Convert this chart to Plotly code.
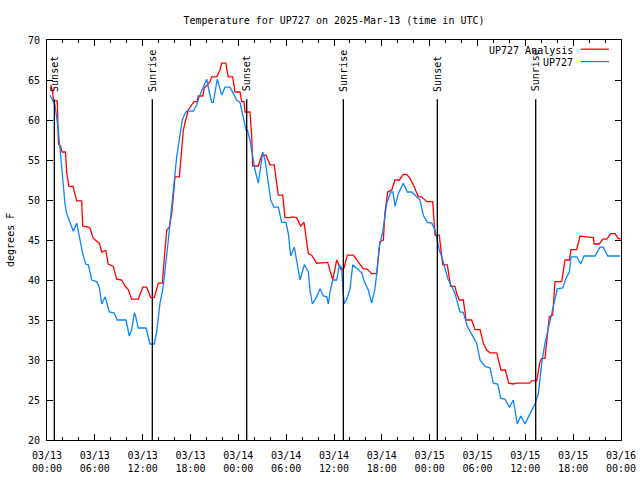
import pandas as pd
import plotly.graph_objects as go

base_time = pd.Timestamp("2025-03-13 00:00")

# UP727 Analysis (red) - hours after 03/13 00:00 UTC, temperature F
red_hours = [0.46, 0.72, 0.79, 1.29, 1.44, 1.72, 1.88, 2.32, 2.47, 2.76, 3.26, 3.73, 4.35, 4.48,
             5.14, 5.39, 5.81, 6.56, 6.86, 7.36, 7.69, 8.32, 8.74, 9.37, 9.78, 10.20, 10.62, 11.45,
             12.00, 12.51, 13.01, 13.46, 13.96, 14.46, 14.80, 15.02, 15.34, 15.64, 15.84, 16.06,
             16.60, 16.77, 16.90, 17.10, 17.40, 17.72, 18.44, 18.82, 18.98, 19.53, 19.73, 20.45,
             20.66, 21.29, 21.70, 21.91, 22.42, 22.74, 23.29, 23.58, 24.21, 24.42, 24.71, 24.84,
             25.46, 25.68, 25.80, 26.51, 26.93, 27.47, 27.97, 28.51, 28.81, 29.01, 29.57, 29.85,
             30.48, 30.82, 31.32, 31.82, 32.24, 32.58, 32.78, 33.20, 33.83, 35.21, 35.50, 35.84,
             36.34, 36.63, 36.88, 37.26, 37.67, 38.42, 39.05, 39.68, 40.10, 40.73, 41.36, 41.56,
             41.77, 42.19, 42.40, 42.74, 43.24, 43.65, 44.19, 44.69, 45.12, 45.53, 45.95, 46.58,
             47.00, 47.63, 48.38, 48.55, 48.67, 49.21, 49.39, 49.64, 50.21, 50.46, 50.64, 51.18,
             51.39, 51.72, 52.22, 52.56, 53.27, 53.69, 54.32, 54.73, 55.16, 55.57, 56.41, 56.95,
             57.49, 57.92, 58.49, 58.92, 60.50, 60.80, 61.43, 61.84, 62.05, 62.47, 62.76, 63.01,
             63.43, 63.72, 64.56, 64.98, 65.52, 65.73, 66.45, 66.86, 67.70, 68.53, 68.62, 69.28,
             69.71, 70.21, 70.71, 71.25, 71.66, 71.96]
red_temp = [64.4, 63.5, 62.4, 62.4, 57.0, 56.7, 56.0, 56.0, 53.4, 51.7, 51.7, 49.9, 49.9, 46.75,
            46.6, 46.5, 45.2, 44.6, 43.5, 43.7, 42.0, 41.7, 40.1, 40.0, 39.25, 38.8, 37.6, 37.6,
            39.1, 39.1, 37.8, 37.8, 39.6, 39.6, 43.75, 46.25, 46.6, 48.3, 50.4, 52.9,
            52.9, 54.8, 57.3, 58.75, 60.0, 61.25, 62.3, 62.3, 63.0, 63.0, 64.0, 64.8,
            65.4, 65.4, 66.25, 67.1, 67.1, 65.4, 65.4, 63.5, 63.5, 62.3, 62.3, 61.0,
            61.0, 57.9, 54.25, 54.25, 55.6, 55.6, 54.4, 54.4, 52.1, 50.6, 50.6, 47.8,
            47.8, 47.9, 47.8, 46.75, 47.2, 44.6, 43.3, 43.1, 42.1, 42.2, 41.25, 40.0,
            42.5, 41.9, 41.3, 41.5, 43.1, 43.1, 42.3, 41.4, 41.4, 40.8, 40.8, 42.5,
            44.8, 45.0, 48.5, 51.0, 51.25, 52.5, 52.5, 53.2, 53.2, 52.7, 51.9, 50.4,
            50.4, 49.8, 49.8, 47.3, 45.6, 45.6, 44.0, 41.9, 41.9, 40.0, 39.2, 39.2,
            38.3, 37.5, 37.5, 35.0, 35.0, 33.8, 33.8, 32.1, 31.25, 30.9, 30.9, 28.75,
            28.75, 27.1, 27.0, 27.1, 27.1, 27.4, 27.4, 29.8, 30.2, 30.2, 33.3, 35.4,
            35.6, 39.8, 39.8, 42.5, 42.5, 43.8, 43.8, 45.5, 45.4, 45.3, 44.5, 44.5,
            45.1, 45.1, 45.8, 45.8, 45.2, 45.1]

# UP727 observations (blue)
blue_hours = [0.38, 1.00, 1.42, 1.72, 1.97, 2.26, 2.47, 2.89, 3.30, 3.73, 4.05, 4.48, 4.85, 5.18,
              5.61, 6.23, 6.56, 6.77, 6.86, 7.31, 7.81, 8.40, 8.82, 9.91, 10.32, 10.62, 10.95,
              11.08, 11.45, 12.42, 12.92, 13.46, 13.76, 14.17, 14.51, 14.71, 15.02, 15.22, 15.55,
              15.84, 16.06, 16.27, 16.47, 16.68, 16.97, 17.31, 17.52, 18.35, 18.78, 19.10, 19.61,
              20.03, 20.36, 20.66, 20.86, 21.07, 21.36, 21.61, 21.91, 22.33, 22.96, 23.37, 23.80,
              24.21, 24.62, 24.96, 25.13, 25.46, 25.80, 26.09, 26.51, 26.81, 27.06, 27.35, 27.76,
              28.06, 28.47, 29.01, 29.44, 29.98, 30.27, 30.57, 31.02, 31.40, 31.74, 32.28, 32.78,
              32.99, 33.28, 33.74, 34.25, 34.66, 35.09, 35.29, 35.50, 35.84, 36.34, 36.67, 36.97,
              37.09, 37.29, 37.59, 38.01, 38.35, 38.85, 39.48, 39.80, 40.30, 40.73, 41.14, 41.36,
              41.68, 42.11, 42.61, 42.90, 43.11, 43.40, 43.65, 44.07, 44.69, 45.20, 45.75, 46.79,
              47.20, 47.71, 48.26, 48.67, 48.96, 49.21, 49.51, 49.93, 50.34, 50.77, 51.18, 51.81,
              52.22, 52.72, 53.27, 53.90, 54.32, 54.94, 55.57, 55.98, 56.54, 56.91, 57.45, 57.99,
              58.49, 58.99, 59.42, 59.96, 60.59, 61.21, 61.63, 62.05, 62.47, 62.76, 63.18, 63.51,
              64.01, 64.69, 65.10, 65.52, 65.73, 66.45, 66.95, 67.36, 68.74, 69.37, 69.78, 70.33,
              71.88]
blue_temp = [63.1, 61.9, 58.75, 55.4, 52.1, 49.5, 48.3, 47.1, 46.1, 47.1, 45.4, 43.3, 42.0, 41.9,
             40.0, 39.8, 39.1, 37.5, 37.0, 37.9, 36.0, 35.9, 35.0, 35.0, 33.0, 33.75, 35.9,
             35.6, 34.0, 34.0, 32.0, 32.0, 33.5, 37.1, 38.75, 40.4, 43.75, 45.0, 48.3,
             50.8, 53.3, 55.4, 56.9, 58.3, 60.0, 60.8, 61.1, 61.1, 61.9, 62.9, 64.2,
             65.1, 63.5, 62.2, 62.2, 63.5, 65.1, 64.2, 63.1, 64.1, 64.1, 63.3, 62.5,
             62.2, 60.5, 58.75, 58.75, 57.5, 55.5, 53.75, 52.1, 54.6, 56.0, 55.0, 52.1,
             50.0, 49.1, 49.1, 47.2, 47.2, 45.8, 43.0, 44.1, 42.1, 40.0, 41.9, 41.0,
             38.75, 37.0, 37.7, 38.9, 38.0, 37.9, 37.0, 38.5, 40.0, 40.0, 41.9, 41.5,
             39.2, 37.0, 37.6, 38.9, 41.9, 41.5, 40.9, 39.8, 38.75, 37.1, 38.9, 40.8,
             44.2, 46.0, 49.6, 50.4, 51.0, 51.0, 49.2, 50.8, 52.1, 51.0, 51.0, 50.0,
             48.1, 47.2, 47.1, 46.25, 45.0, 43.75, 42.9, 41.25, 40.0, 39.2, 38.3, 36.0,
             35.96, 34.2, 33.3, 32.1, 30.0, 29.2, 29.0, 27.1, 27.0, 25.2, 25.1, 24.1,
             25.0, 22.0, 23.0, 22.0, 23.3, 24.5, 25.8, 29.6, 32.1, 33.5, 35.2, 36.7,
             38.9, 39.0, 40.2, 41.0, 42.9, 42.9, 42.0, 43.0, 43.0, 44.1, 44.1, 43.0,
             43.0]

# Sun events (hours after 03/13 00:00 UTC)
event_labels = ["Sunset", "Sunrise", "Sunset", "Sunrise", "Sunset", "Sunrise"]
event_hours = [0.92, 13.21, 25.05, 37.17, 48.96, 61.30]

series_names = ["UP727 Analysis", "UP727"]
series_colors = ["#FF0000", "#0A84FF"]

def to_time(hours):
    return [base_time + pd.Timedelta(hours=h) for h in hours]

FONT = "DejaVu Sans Mono"
FS = 10
fig = go.Figure()
fig.add_trace(go.Scatter(x=to_time(red_hours), y=red_temp, mode="lines", name=series_names[0],
                         line=dict(color=series_colors[0], width=1.3)))
fig.add_trace(go.Scatter(x=to_time(blue_hours), y=blue_temp, mode="lines", name=series_names[1],
                         line=dict(color=series_colors[1], width=1.3)))

shapes = []
annotations = []
for lab, t in zip(event_labels, to_time(event_hours)):
    shapes.append(dict(type="line", xref="x", yref="y", x0=t, x1=t, y0=20, y1=62.6,
                       line=dict(color="black", width=1.3)))
    annotations.append(dict(x=t, y=63.3, xref="x", yref="y", text=lab, textangle=-90,
                            showarrow=False, xanchor="center", yanchor="bottom",
                            font=dict(family=FONT, size=FS, color="black")))

# Custom gnuplot-style legend (text on the left, sample on the right)
leg_y = [0.975, 0.944]
for name, col, yy in zip(series_names, series_colors, leg_y):
    annotations.append(dict(x=0.919, y=yy, xref="paper", yref="paper", text=name,
                            showarrow=False, xanchor="right", yanchor="middle",
                            font=dict(family=FONT, size=FS, color="black")))
    shapes.append(dict(type="line", xref="paper", yref="paper", x0=0.93, x1=0.979,
                       y0=yy + 0.002, y1=yy + 0.002, line=dict(color=col, width=1.3)))

annotations.append(dict(x=-0.0645, y=0.5, xref="paper", yref="paper", text="degrees F",
                        textangle=-90, showarrow=False, xanchor="center", yanchor="middle",
                        font=dict(family=FONT, size=FS, color="black")))

fig.update_layout(
    width=640, height=480,
    margin=dict(l=47, r=19, t=40, b=40, autoexpand=False),
    paper_bgcolor="white", plot_bgcolor="white",
    showlegend=False,
    font=dict(family=FONT, size=FS, color="black"),
    title=dict(text="Temperature for UP727 on 2025-Mar-13 (time in UTC)", x=0.5, xref="paper",
               xanchor="center", y=1 - 20 / 480, yanchor="middle",
               font=dict(family=FONT, size=FS, color="black")),
    shapes=shapes, annotations=annotations,
)
fig.update_xaxes(
    type="date", range=[base_time, base_time + pd.Timedelta(hours=72)],
    dtick=6 * 3600 * 1000, tick0=base_time, tickformat="%m/%d<br>%H:%M",
    ticks="inside", ticklen=6, tickcolor="black", showline=True, linecolor="black",
    linewidth=1, mirror="ticks", showgrid=False, zeroline=False, ticklabelstandoff=6,
    automargin=False,
    minor=dict(dtick=2 * 3600 * 1000, ticks="inside", ticklen=3, tickcolor="black", showgrid=False),
)
fig.update_yaxes(
    range=[20, 70], dtick=5, ticks="inside", ticklen=6, tickcolor="black",
    showline=True, linecolor="black", linewidth=1, mirror="ticks", showgrid=False,
    zeroline=False, ticklabelstandoff=4, automargin=False,
)
fig.write_html("out.html", config={"displayModeBar": False},
               post_script="document.body.style.margin='0';document.body.style.padding='0';")
